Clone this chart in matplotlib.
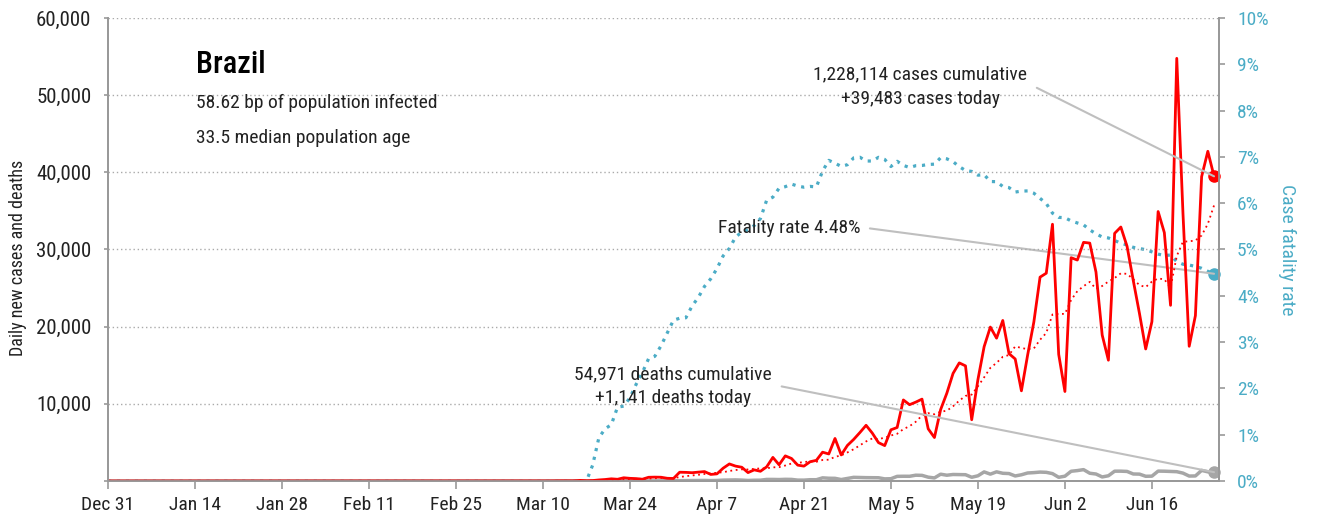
import numpy as np
import pandas as pd
import matplotlib
matplotlib.use("Agg")
from matplotlib import pyplot as plt
from matplotlib import dates as mdates
from matplotlib.ticker import FuncFormatter, MultipleLocator

plt.rcParams["font.family"] = ["Roboto Condensed", "Barlow Condensed", "DejaVu Sans"]

# daily new cases, reported dates from Feb 27 to Jun 26
cases_feb_mar = [1, 0, 0, 1,
                 0, 0, 0, 1, 5, 5, 6, 6, 0, 9, 18, 25, 21, 23, 79, 34, 57, 137,
                 193, 283, 224, 418, 345, 310, 232, 482, 502, 487, 352, 323, 1138]
cases_apr = [1119, 1074, 1146, 1222, 852, 926, 1661, 2210, 1930, 1781,
             1089, 1442, 1261, 1832, 3058, 2105, 3257, 2917, 2055, 1927,
             2498, 2678, 3735, 3503, 5514, 3379, 4613, 5385, 6276, 7218]
cases_may = [6209, 4970, 4588, 6633, 6935, 10503, 9888, 10222, 10611, 6760,
             5632, 9258, 11385, 13944, 15305, 14919, 7938, 13140, 17408, 19951,
             18508, 20803, 16508, 15813, 11687, 16324, 20599, 26417, 26928, 33274,
             16409]
cases_jun = [11598, 28936, 28633, 30925, 30830, 27075, 18912, 15654, 32091, 32913,
             30412, 25982, 21704, 17110, 20647, 34918, 32188, 22765, 54771, 34666,
             17459, 21432, 39436, 42725, 39483]

# daily deaths, reported dates from Mar 18 to Jun 26
deaths_mar = [1, 3, 3, 4, 7, 7, 9, 12, 11, 20, 15, 22, 22, 23, 42]
deaths_apr = [40, 58, 60, 73, 54, 67, 114, 133, 141, 115, 68, 99, 105, 204, 204,
              188, 217, 206, 115, 113, 166, 165, 407, 357, 346, 189, 338, 474, 449, 435]
deaths_may = [428, 421, 275, 296, 600, 615, 610, 751, 730, 496, 396, 881, 749, 844,
              824, 816, 485, 674, 1179, 888, 1188, 1001, 965, 653, 807, 1039, 1086,
              1156, 1124, 956, 480]
deaths_jun = [623, 1262, 1349, 1473, 1005, 904, 525, 679, 1272, 1274, 1239, 909, 892,
              612, 627, 1282, 1269, 1238, 1206, 1022, 641, 654, 1374, 1185, 1141]

dates = pd.date_range("2019-12-31", "2020-06-26", freq="D")
cases = cases_feb_mar + cases_apr + cases_may + cases_jun
deaths = deaths_mar + deaths_apr + deaths_may + deaths_jun
cases = np.array([0] * (len(dates) - len(cases)) + cases, dtype=float)
deaths = np.array([0] * (len(dates) - len(deaths)) + deaths, dtype=float)

avg7 = pd.Series(cases).rolling(7, min_periods=1).mean().values
cum_c = np.cumsum(cases)
cum_d = np.cumsum(deaths)
cfr = np.where(cum_c > 0, cum_d / np.maximum(cum_c, 1), 0.0)

RED = "#ff0000"
TEAL = "#4bacc6"
GREY = "#a6a6a6"
LEAD = "#bfbfbf"
SPINE = "#999999"
TXT = "#222222"

fig = plt.figure(figsize=(13.17, 5.2), dpi=100)
ax = fig.add_axes([0.082, 0.075, 0.8436, 0.8904])
ax2 = ax.twinx()

ax.set_zorder(ax2.get_zorder() + 1)
ax.patch.set_visible(False)

ax2.plot(dates, cfr, color=TEAL, lw=2.3, ls=(0, (1, 1.8)))
ax2.plot(dates[-1], cfr[-1], "o", color=TEAL, ms=8, clip_on=False)

ax.plot(dates, deaths, color=GREY, lw=2.5)
ax.plot(dates, avg7, color=RED, lw=1.3, ls=(0, (1, 2)))
ax.plot(dates, cases, color=RED, lw=2)
ax.plot(dates[-1], cases[-1], "o", color=RED, ms=8, clip_on=False)
ax.plot(dates[-1], deaths[-1], "o", color=GREY, ms=8, clip_on=False)

x0 = dates[0]
ax.set_xlim(x0, x0 + pd.Timedelta(days=178.8))
ax.set_ylim(0, 60000)
ax2.set_ylim(0, 0.10)

ax.set_xticks(pd.date_range(x0, "2020-06-16", freq="14D"))
ax.xaxis.set_major_formatter(FuncFormatter(
    lambda v, p: f"{mdates.num2date(v):%b} {mdates.num2date(v).day}"))
ax.yaxis.set_major_locator(MultipleLocator(10000))
ax.yaxis.set_major_formatter(FuncFormatter(lambda v, p: "" if v == 0 else f"{v:,.0f}"))
ax2.yaxis.set_major_locator(MultipleLocator(0.01))
ax2.yaxis.set_major_formatter(FuncFormatter(lambda v, p: f"{v * 100:.0f}%"))

ax.grid(axis="y", color="#aaaaaa", ls=(0, (1, 2)), lw=1)
for a in (ax, ax2):
    a.spines["top"].set_visible(False)
    for s in ("left", "right", "bottom"):
        a.spines[s].set_color(SPINE)
        a.spines[s].set_linewidth(1.3)
ax.tick_params(axis="y", length=3, width=1.2, color=SPINE, pad=9, labelsize=15, labelcolor=TXT)
ax.tick_params(axis="x", length=6, width=1.2, color=SPINE, pad=5, labelsize=14, labelcolor=TXT)
ax2.tick_params(axis="y", length=4, width=1.2, color=SPINE, pad=9, labelsize=14, labelcolor=TEAL)

fig.text(18 / 1317, 0.504, "Daily new cases and deaths", rotation=90, ha="center",
         va="center", fontsize=13, color=TXT)
fig.text(1287 / 1317, 0.519, "Case fatality rate", rotation=270, ha="center",
         va="center", fontsize=14, color=TEAL)

ax.text(0.0792, 0.9006, "Brazil", transform=ax.transAxes, fontsize=22,
        fontweight="medium", va="center", ha="left", color="black")
ax.text(0.0792, 0.8164, "58.62 bp of population infected", transform=ax.transAxes,
        fontsize=14, va="center", ha="left", color=TXT)
ax.text(0.0792, 0.7408, "33.5 median population age", transform=ax.transAxes,
        fontsize=14, va="center", ha="left", color=TXT)

lead = dict(arrowstyle="-", color=LEAD, lw=1.5, shrinkA=5, shrinkB=0,
            relpos=(1, 0.5), connectionstyle="arc,angleA=0,armA=8,armB=0,rad=0")
ax.annotate("1,228,114 cases cumulative\n+39,483 cases today",
            xy=(dates[-1], cases[-1]), xytext=(0.731, 0.851),
            textcoords="axes fraction", ha="center", va="center",
            multialignment="center", linespacing=1.45, fontsize=14, color=TXT,
            arrowprops=lead)
ax2.annotate("Fatality rate 4.48%",
             xy=(dates[-1], cfr[-1]), xytext=(0.677, 0.546),
             textcoords="axes fraction", ha="right", va="center",
             fontsize=14, color=TXT, arrowprops=lead)
ax.annotate("54,971 deaths cumulative\n+1,141 deaths today",
            xy=(dates[-1], deaths[-1]), xytext=(0.5086, 0.205),
            textcoords="axes fraction", ha="center", va="center",
            multialignment="center", linespacing=1.45, fontsize=14, color=TXT,
            arrowprops=lead)

fig.savefig("out.png", dpi=100)
